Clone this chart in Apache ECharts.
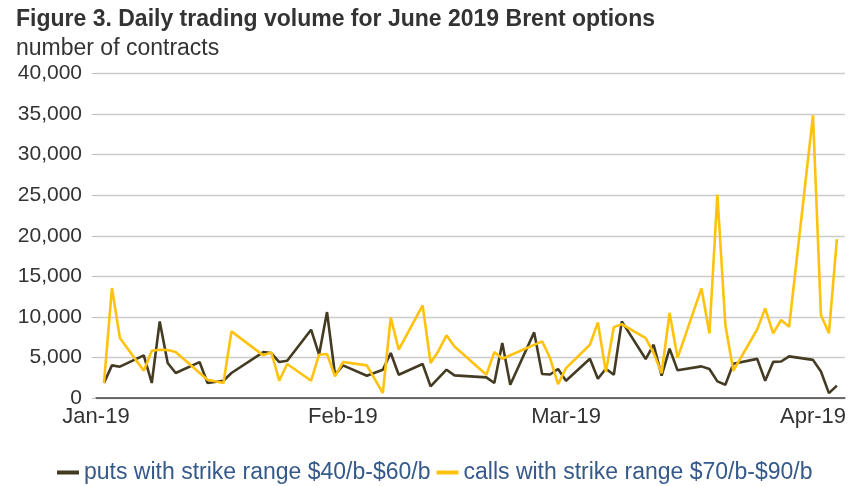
<!DOCTYPE html>
<html>
<head>
<meta charset="utf-8">
<script src="https://cdn.jsdelivr.net/npm/echarts@6/dist/echarts.min.js"></script>
<style>
html,body{margin:0;padding:0;background:#fff;}
#chart{width:849px;height:486px;}
</style>
</head>
<body>
<div id="chart"></div>
<script>
// ---- data ----
const titleText = 'Figure 3. Daily trading volume for June 2019 Brent options';
const unitText = 'number of contracts';
const seriesNames = ['puts with strike range $40/b-$60/b', 'calls with strike range $70/b-$90/b'];
const monthTicks = ['2019-01-01', '2019-02-01', '2019-03-01', '2019-04-01'];
const monthLabels = ['Jan-19', 'Feb-19', 'Mar-19', 'Apr-19'];
const axisStart = '2019-01-01';
const axisEnd = '2019-04-05';
const yTicks = [0, 5000, 10000, 15000, 20000, 25000, 30000, 35000, 40000];

const putsDates = ['2019-01-02','2019-01-03','2019-01-04','2019-01-07','2019-01-08','2019-01-09','2019-01-10','2019-01-11',
  '2019-01-14','2019-01-15','2019-01-17','2019-01-18','2019-01-22','2019-01-23','2019-01-24','2019-01-25',
  '2019-01-28','2019-01-29','2019-01-30','2019-01-31','2019-02-01','2019-02-04','2019-02-06','2019-02-07','2019-02-08',
  '2019-02-11','2019-02-12','2019-02-14','2019-02-15','2019-02-19','2019-02-20','2019-02-21','2019-02-22',
  '2019-02-25','2019-02-26','2019-02-27','2019-02-28','2019-03-01','2019-03-04','2019-03-05','2019-03-06','2019-03-07','2019-03-08',
  '2019-03-11','2019-03-12','2019-03-13','2019-03-14','2019-03-15','2019-03-18','2019-03-19','2019-03-20','2019-03-21','2019-03-22',
  '2019-03-25','2019-03-26','2019-03-27','2019-03-28','2019-03-29','2019-04-01','2019-04-02','2019-04-03','2019-04-04'];
const putsValues = [1850,4020,3860,5250,1850,9440,4310,3080,
  4430,1850,2130,3080,5660,5540,4430,4600,
  8420,5340,10590,2870,4020,2750,3490,5540,2870,
  4190,1440,3490,2790,2545,1850,6770,1640,
  8090,2960,2900,3570,2130,4840,2380,3610,2870,9440,
  4800,6570,2750,6080,3410,3900,3570,2050,1640,4230,
  4820,2130,4450,4500,5130,4700,3260,600,1520];

const callsDates = ['2019-01-02','2019-01-03','2019-01-04','2019-01-07','2019-01-08','2019-01-09','2019-01-10','2019-01-11',
  '2019-01-15','2019-01-17','2019-01-18','2019-01-22','2019-01-23','2019-01-24','2019-01-25',
  '2019-01-28','2019-01-29','2019-01-30','2019-01-31','2019-02-01','2019-02-04','2019-02-06','2019-02-07','2019-02-08',
  '2019-02-11','2019-02-12','2019-02-13','2019-02-14','2019-02-15','2019-02-19','2019-02-20','2019-02-21',
  '2019-02-26','2019-02-27','2019-02-28','2019-03-01','2019-03-04','2019-03-05','2019-03-06','2019-03-07','2019-03-08',
  '2019-03-11','2019-03-12','2019-03-13','2019-03-14','2019-03-15','2019-03-18','2019-03-19','2019-03-20','2019-03-21','2019-03-22',
  '2019-03-25','2019-03-26','2019-03-27','2019-03-28','2019-03-29','2019-04-01','2019-04-02','2019-04-03','2019-04-04'];
const callsValues = [1850,13550,7390,3370,5830,5950,5910,5670,
  2260,1850,8210,5250,5660,2130,4190,
  2130,5340,5420,2670,4430,4020,615,9930,5950,
  11410,4310,5830,7720,6360,2870,5660,4840,
  6980,4930,1720,3690,6570,9320,3200,8740,9110,
  7390,5540,3060,10480,4950,13510,7970,25090,8990,3360,
  8460,11050,7970,9610,8780,34850,10220,7970,19580];

// ---- helpers ----
function ts(s){ const p = s.split('-').map(Number); return Date.UTC(p[0], p[1]-1, p[2]); }
function pairs(dates, vals){ return dates.map((d,i)=>[ts(d), vals[i]]); }
function fmtNum(v){ return String(v).replace(/\B(?=(\d{3})+(?!\d))/g, ','); }

const tickTs = monthTicks.map(ts);
const textColor = '#333333';
const FONT = 'Liberation Sans, Arial, sans-serif';

const chart = echarts.init(document.getElementById('chart'), null, {renderer:'canvas'});
chart.setOption({
  animation: false,
  backgroundColor: '#ffffff',
  textStyle: {fontFamily: FONT},
  title: [
    {text: titleText, left: 11, top: 3, textStyle: {fontSize: 23, fontWeight: 'bold', color: textColor, fontFamily: FONT}},
    {text: unitText, left: 11, top: 32, textStyle: {fontSize: 23, fontWeight: 'normal', color: textColor, fontFamily: FONT}}
  ],
  legend: {
    data: seriesNames,
    left: 52, top: 456,
    icon: 'rect', itemWidth: 22, itemHeight: 4, itemGap: 6,
    textStyle: {fontSize: 23, color: '#35598a', fontFamily: FONT}
  },
  grid: {left: 96, right: 3, top: 73.5, bottom: 88, containLabel: false},
  xAxis: {
    type: 'value',
    min: ts(axisStart), max: ts(axisEnd),
    axisLine: {show: true, onZero: true, lineStyle: {color: '#444444', width: 1.5}},
    axisTick: {show: false},
    splitLine: {show: false},
    axisLabel: {
      customValues: tickTs,
      showMinLabel: true, showMaxLabel: true,
      fontSize: 22, color: textColor, margin: 8, fontFamily: FONT,
      formatter: function(v){ const i = tickTs.indexOf(v); return i >= 0 ? monthLabels[i] : ''; }
    }
  },
  yAxis: {
    type: 'value',
    min: yTicks[0], max: yTicks[yTicks.length-1], interval: 5000,
    axisLine: {show: false},
    axisTick: {show: true, length: 4, lineStyle: {color: '#bdbdbd'}},
    splitLine: {show: true, lineStyle: {color: '#cccccc', width: 1.3}},
    axisLabel: {fontSize: 21, color: textColor, margin: 14, fontFamily: FONT, formatter: fmtNum}
  },
  series: [
    {name: seriesNames[0], type: 'line', data: pairs(putsDates, putsValues), showSymbol: false,
     lineStyle: {color: '#433b22', width: 2.6}, itemStyle: {color: '#433b22'}},
    {name: seriesNames[1], type: 'line', data: pairs(callsDates, callsValues), showSymbol: false,
     lineStyle: {color: '#ffc20e', width: 2.6}, itemStyle: {color: '#ffc20e'}}
  ]
});
</script>
</body>
</html>
